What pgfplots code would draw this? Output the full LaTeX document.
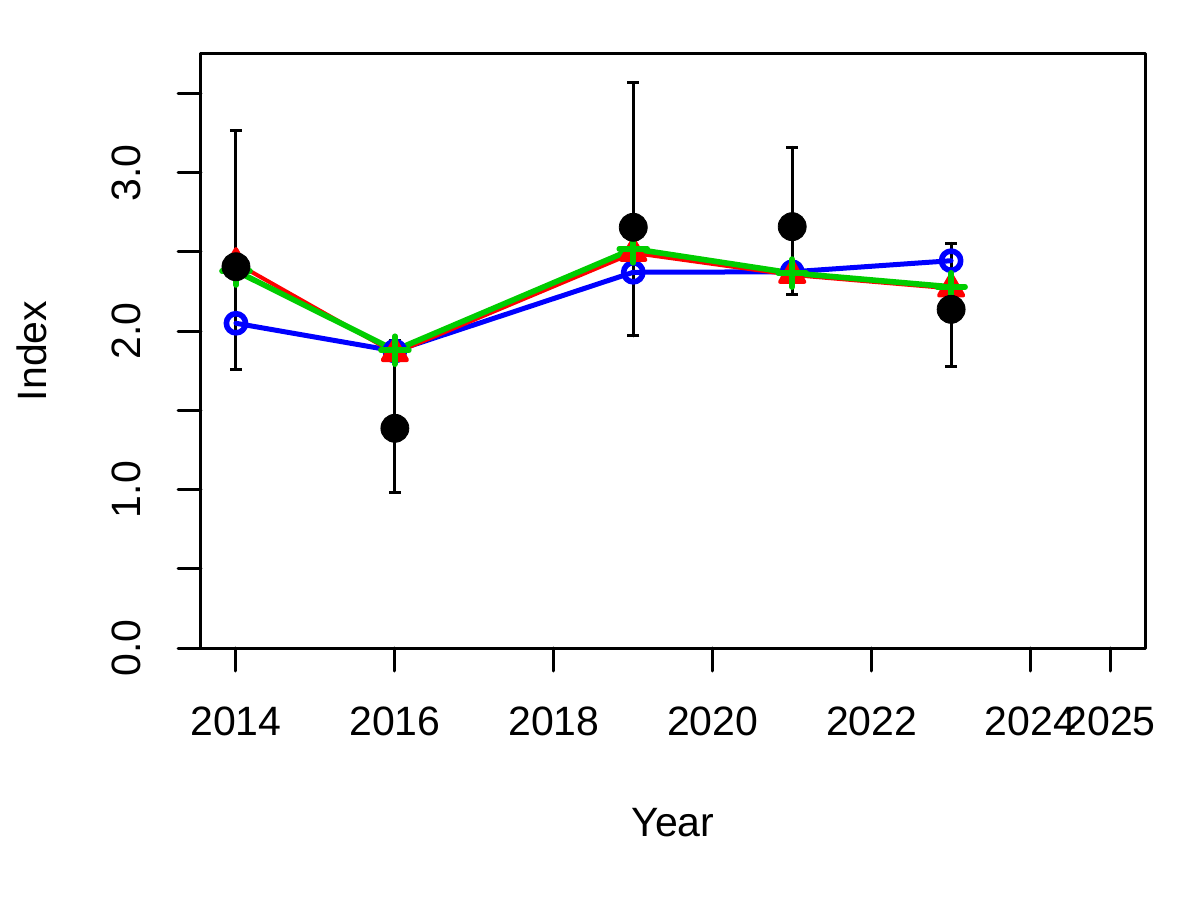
\documentclass[border=0pt]{standalone}
\usepackage{fontspec}
\setmainfont{Liberation Sans}
\usepackage{pgfplots}
\pgfplotsset{compat=1.18}
\usepackage{pgfplotstable}

\definecolor{grn}{RGB}{0,205,0}
\newcommand\ff{\fontsize{20.5bp}{24bp}\selectfont}

% observed index with asymmetric intervals
\pgfplotstableread{
year y up lo
2014 2.407 0.859 0.648
2016 1.387 0.557 0.404
2019 2.656 0.913 0.686
2021 2.660 0.501 0.427
2023 2.138 0.417 0.358
}\obs

\begin{document}
\begin{tikzpicture}
\useasboundingbox (-100.5bp,-126bp) rectangle (499.5bp,324bp);
\begin{axis}[
  at={(0,0)}, anchor=south west,
  scale only axis, width=472bp, height=297bp,
  xmin=2013.56, xmax=2025.44, ymin=0, ymax=3.75,
  axis line style={line width=1.5bp},
  every tick/.style={black, line width=1.5bp},
  tick align=outside, major tick length=11.5bp,
  xtick={2014,2016,2018,2020,2022,2024,2025},
  xticklabels={2014,2016,2018,2020,2022,2024,2025},
  ytick={0,0.5,1,1.5,2,2.5,3,3.5},
  yticklabels={0.0,,1.0,,2.0,,3.0,},
  xtick pos=bottom, ytick pos=left,
  tick label style={font=\ff},
  xticklabel style={anchor=center, yshift=-25bp},
  yticklabel style={rotate=90, anchor=center, yshift=26bp},
  xlabel={Year}, ylabel={Index},
  label style={font=\ff},
  xlabel style={at={(axis description cs:0.5,0)}, anchor=center, yshift=-87.5bp},
  ylabel style={at={(axis description cs:0,0.5)}, anchor=center, yshift=84.5bp},
  line join=round, line cap=round,
]
\addplot[black, only marks, mark=none,
  error bars/.cd, y dir=both, y explicit,
  error bar style={black, line width=1.5bp},
  error mark options={black, rotate=90, mark size=3bp, line width=1.5bp}]
  table[x=year, y=y, y error plus=up, y error minus=lo] {\obs};

% blue series
\addplot[blue, line width=2.5bp, mark=o, mark size=4.8bp, mark options={line width=2.8bp}]
  coordinates {(2014,2.050) (2016,1.875) (2019,2.372) (2021,2.375) (2023,2.445)};
% red series
\addplot[red, line width=2bp, mark=triangle*, mark size=7bp]
  coordinates {(2014,2.43) (2016,1.862) (2019,2.494) (2021,2.355) (2023,2.27)};
% green series
\addplot[grn, line width=2.8bp, mark=+, mark size=7bp]
  coordinates {(2014,2.38) (2016,1.88) (2019,2.52) (2021,2.367) (2023,2.28)};

\addplot[black, only marks, mark=*, mark size=7bp]
  table[x=year, y=y] {\obs};
\end{axis}
\end{tikzpicture}
\end{document}
